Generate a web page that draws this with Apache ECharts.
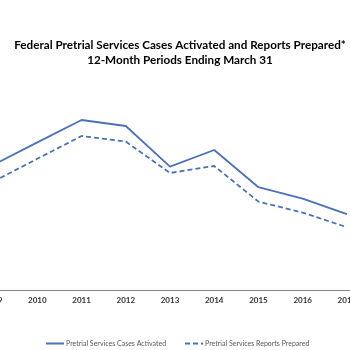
<!DOCTYPE html>
<html>
<head>
<meta charset="utf-8">
<script src="https://cdn.jsdelivr.net/npm/echarts@6/dist/echarts.min.js"></script>
<style>
  html, body { margin: 0; padding: 0; background: #fff; overflow: hidden; }
  /* 原图左右被裁掉，所以画布比窗口宽一点再往左挪 */
  #chart { width: 398px; height: 350px; position: relative; left: -29px; }
</style>
</head>
<body>
<div id="chart"></div>
<script>
// 年份 (左右两端被裁掉一部分)
var years = ['2009', '2010', '2011', '2012', '2013', '2014', '2015', '2016', '2017'];
// 数值是从图上估出来的，y轴不在画面里
var casesActivated = [62.5, 73.8, 85, 82, 61.7, 70, 51.4, 45.7, 37.9];
var reportsPrepared = [54.2, 65.6, 77, 74.2, 58.5, 62, 44.2, 38.7, 31.4];

var blue = '#4a72b8';
var shift = 29; // 画布的左偏移

var chart = echarts.init(document.getElementById('chart'));
chart.setOption({
    animation: false,
    title: {
        text: 'Federal Pretrial Services Cases Activated and Reports Prepared*\n12-Month Periods Ending March 31',
        left: 175 + shift,
        top: 33,
        textAlign: 'center',
        textStyle: {
            fontFamily: 'Lato',
            fontWeight: 'bold',
            fontSize: 11.7,
            lineHeight: 15,
            color: '#000'
        }
    },
    legend: {
        bottom: 3,
        left: 45 + shift,
        padding: 0,
        itemWidth: 18,
        itemHeight: 6,
        itemGap: 18,
        itemStyle: { opacity: 0 },
        textStyle: { fontFamily: 'Lato', fontSize: 7, color: '#595959', padding: [0, 0, 0, -3] },
        data: ['Pretrial Services Cases Activated', 'Pretrial Services Reports Prepared']
    },
    grid: { left: 0, right: 0, top: 90, bottom: 60 },
    xAxis: {
        type: 'category',
        data: years,
        boundaryGap: true,
        axisLine: { lineStyle: { color: '#868686', width: 1 } },
        axisTick: { show: false },
        axisLabel: {
            margin: 6,
            fontFamily: 'Lato',
            fontWeight: 'bold',
            fontSize: 8,
            color: '#333'
        }
    },
    yAxis: {
        type: 'value',
        min: 0,
        max: 100,
        show: false,
        splitLine: { show: false }
    },
    series: [{
        name: 'Pretrial Services Cases Activated',
        type: 'line',
        data: casesActivated,
        showSymbol: false,
        symbol: 'none',
        lineStyle: { color: blue, width: 1.8 },
        itemStyle: { color: blue }
    }, {
        name: 'Pretrial Services Reports Prepared',
        type: 'line',
        data: reportsPrepared,
        showSymbol: false,
        symbol: 'none',
        lineStyle: { color: blue, width: 1.8, type: [5, 3] },
        itemStyle: { color: blue }
    }]
});
</script>
</body>
</html>
